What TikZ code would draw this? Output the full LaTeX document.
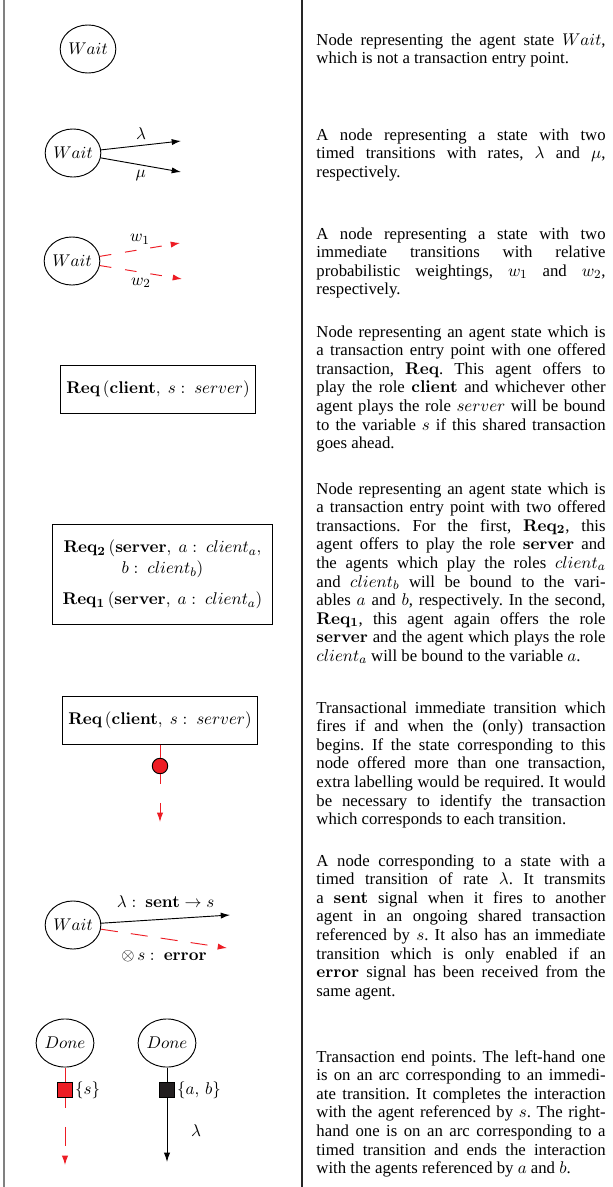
\documentclass[tikz,border=0pt]{standalone}
\usepackage{amsmath}
\usepackage{amssymb}
\usepackage[no-math]{fontspec}
\setmainfont{Liberation Serif}
\usepackage{tikz}
\usetikzlibrary{arrows.meta,shapes.geometric}
\definecolor{tred}{RGB}{237,28,36}
\definecolor{tblack}{RGB}{35,31,32}

\begin{document}
\begin{tikzpicture}[x=0.645pt,y=-0.645pt,>={Latex[length=6pt,width=4pt]},semithick,
  font=\fontsize{11.2}{13.4}\selectfont,
  main node/.style={ellipse,draw,inner sep=0pt,minimum height=31pt},
  rec node/.style={rectangle,draw,inner xsep=4pt,minimum height=31pt},
  dot node/.style={circle,draw,fill=tred,inner sep=0pt,minimum size=10pt},
  end node/.style={rectangle,draw,fill=#1,inner sep=0pt,minimum size=10pt},
  imm/.style={tred,dash pattern=on 9pt off 9pt},
  imm long/.style={tred,dash pattern=on 12pt off 12pt,dash phase=5.5pt},
  txt/.style={anchor=base west,text width=186.5pt,align=justify,inner sep=0pt,
    font=\fontsize{10.8}{12}\selectfont\frenchspacing}]

  \useasboundingbox (0,0) rectangle (612,1187);
  \draw[gray,line width=1pt] (4,0) -- (4,1187);
  \draw[black!85,line width=0.7pt] (302,0) -- (302,1187);

  % plain state
  \node[main node] (wait1) at (88,49) {$Wait$};

  % timed transitions
  \node[main node] (wait2) at (73,153) {$Wait$};
  \coordinate (t2a) at (181,141);
  \coordinate (t2b) at (181,172);
  \path[->]
    (wait2) edge node[above] {$\lambda$} (t2a)
    (wait2) edge node[below] {$\mu$} (t2b)
    ;

  % immediate transitions
  \node[main node] (wait3) at (72,261) {$Wait$};
  \coordinate (t3a) at (180,243);
  \coordinate (t3b) at (182,279);
  \path[->,imm,dash pattern=on 7.5pt off 9pt]
    (wait3) edge node[above,black] {$w_1$} (t3a)
    (wait3) edge node[below,black] {$w_2$} (t3b)
    ;

  % entry points
  \node[rec node] (req1) at (158,389) {$\mathbf{Req}\,(\mathbf{client},\ s:\ server)$};
  \node[rec node,align=center,inner xsep=6.5pt,minimum height=64pt] (req2) at (162.5,574.5)
    {$\mathbf{Req_2}\,(\mathbf{server},\ a:\ client_a,$\\
     $b:\ client_b)$\\[6.6pt]
     $\mathbf{Req_1}\,(\mathbf{server},\ a:\ client_a)$};

  % transactional immediate transition
  \node[rec node] (req3) at (160,720) {$\mathbf{Req}\,(\mathbf{client},\ s:\ server)$};
  \node[dot node] (dot) at (160,766) {};
  \coordinate (c6) at (160,822);
  \path (req3) edge[tred] (dot);
  \path[->] (dot) edge[imm long] (c6);

  % signals
  \node[main node] (wait7) at (73,925) {$Wait$};
  \coordinate (t7a) at (230,915);
  \coordinate (t7b) at (227,948);
  \path[->]
    (wait7) edge node[above=4pt] {$\lambda:\ \mathbf{sent}\rightarrow s$} (t7a)
    (wait7) edge[imm,dash pattern=on 11pt off 8.5pt] node[below=4pt,black] {$\otimes\,s:\ \mathbf{error}$} (t7b)
    ;

  % end points
  \node[main node] (doneL) at (65,1043) {$Done$};
  \node[end node=tred] (sqL) at (65,1090) {};
  \node[anchor=west,inner sep=1pt] (setL) at (sqL.east) {$\{s\}$};
  \coordinate (endL) at (65,1165);
  \path (doneL) edge[tred] (sqL);
  \path[->] (sqL) edge[imm long] (endL);

  \node[main node] (doneR) at (167,1043) {$Done$};
  \node[end node=tblack] (sqR) at (167,1090) {};
  \node[anchor=west,inner sep=1pt] (setR) at (sqR.east) {$\{a,\,b\}$};
  \coordinate (endR) at (167,1162);
  \path (doneR) edge (sqR);
  \path[->] (sqR) edge node[right=12pt] {$\lambda$} (endR);

  % descriptions
  \node[txt] (p1) at (316,45) {Node representing the agent state $Wait$,\linebreak
    which is not a transaction entry point.};
  \node[txt] (p2) at (316,140) {A node representing a state with two\linebreak
    timed transitions with rates, $\lambda$ and $\mu$,\linebreak
    respectively.};
  \node[txt] (p3) at (316,239) {A node representing a state with two\linebreak
    immediate transitions with relative\linebreak
    probabilistic weightings, $w_1$ and $w_2$,\linebreak
    respectively.};
  \node[txt] (p4) at (316,337) {Node representing an agent state which is\linebreak
    a transaction entry point with one offered\linebreak
    transaction, $\mathbf{Req}$. This agent offers to\linebreak
    play the role $\mathbf{client}$ and whichever other\linebreak
    agent plays the role $server$ will be bound\linebreak
    to the variable $s$ if this shared transaction\linebreak
    goes ahead.};
  \node[txt] (p5) at (316,494) {Node representing an agent state which is\linebreak
    a transaction entry point with two offered\linebreak
    transactions. For the first, $\mathbf{Req_2}$, this\linebreak
    agent offers to play the role $\mathbf{server}$ and\linebreak
    the agents which play the roles $client_a$\linebreak
    and $client_b$ will be bound to the vari-\linebreak
    ables $a$ and $b$, respectively. In the second,\linebreak
    $\mathbf{Req_1}$, this agent again offers the role\linebreak
    $\mathbf{server}$ and the agent which plays the role\linebreak
    $client_a$ will be bound to the variable $a$.};
  \node[txt] (p6) at (316,713) {Transactional immediate transition which\linebreak
    fires if and when the (only) transaction\linebreak
    begins. If the state corresponding to this\linebreak
    node offered more than one transaction,\linebreak
    extra labelling would be required. It would\linebreak
    be necessary to identify the transaction\linebreak
    which corresponds to each transition.};
  \node[txt] (p7) at (316,866) {A node corresponding to a state with a\linebreak
    timed transition of rate $\lambda$. It transmits\linebreak
    a $\mathbf{sent}$ signal when it fires to another\linebreak
    agent in an ongoing shared transaction\linebreak
    referenced by $s$. It also has an immediate\linebreak
    transition which is only enabled if an\linebreak
    $\mathbf{error}$ signal has been received from the\linebreak
    same agent.};
  \node[txt] (p8) at (316,1062) {Transaction end points. The left-hand one\linebreak
    is on an arc corresponding to an immedi-\linebreak
    ate transition. It completes the interaction\linebreak
    with the agent referenced by $s$. The right-\linebreak
    hand one is on an arc corresponding to a\linebreak
    timed transition and ends the interaction\linebreak
    with the agents referenced by $a$ and $b$.};

\end{tikzpicture}
\end{document}
